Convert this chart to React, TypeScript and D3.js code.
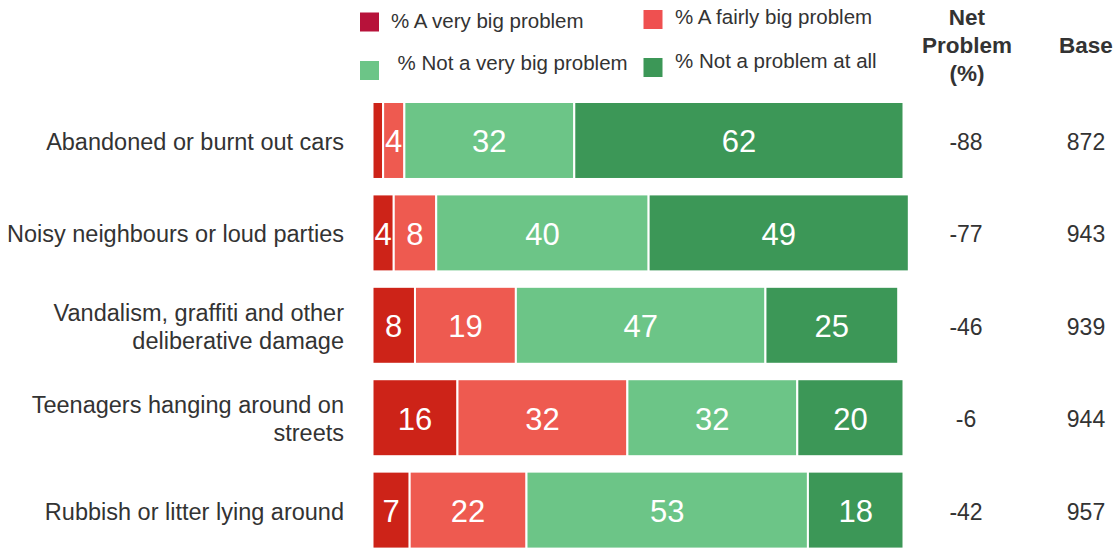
import React from "react";
import * as d3 from "d3";

const categories = [
  ["Abandoned or burnt out cars"],
  ["Noisy neighbours or loud parties"],
  ["Vandalism, graffiti and other", "deliberative damage"],
  ["Teenagers hanging around on", "streets"],
  ["Rubbish or litter lying around"],
];
const veryBig = [2, 4, 8, 16, 7];
const fairlyBig = [4, 8, 19, 32, 22];
const notVeryBig = [32, 40, 47, 32, 53];
const notAtAll = [62, 49, 25, 20, 18];
const netProblem = ["-88", "-77", "-46", "-6", "-42"];
const base = ["872", "943", "939", "944", "957"];
const seriesNames = ["% A very big problem", "% A fairly big problem", "% Not a very big problem", "% Not a problem at all"];
const barColors = ["#cd2318", "#ee5a50", "#6cc587", "#3c9757"];
const legendColors = ["#b7123a", "#ef5050", "#6cc587", "#3c9757"];

export default function App() {
  const W = 1115, H = 548;
  const x = d3.scaleLinear().domain([0, 100]).range([372.5, 903.5]);
  const y = d3
    .scaleBand()
    .domain(categories.map((_, i) => String(i)))
    .range([102, 548.6])
    .paddingInner(0.167)
    .paddingOuter(0);
  const series = [veryBig, fairlyBig, notVeryBig, notAtAll];
  const font = "Liberation Sans, Arial, Helvetica, sans-serif";
  const legendPos = [
    { sx: 360, sy: 12.5, tx: 391, ty: 27.5 },
    { sx: 643.5, sy: 10, tx: 675, ty: 24 },
    { sx: 360, sy: 61, tx: 397.5, ty: 70 },
    { sx: 643.5, sy: 58, tx: 675, ty: 67.5 },
  ];
  const dy = 1.5;
  return (
    <svg width={W} height={H} style={{ position: "absolute", left: 0, top: 0, fontFamily: font }}>
      <rect width={W} height={H} fill="#fff" />
      {legendPos.map((p, i) => (
        <g key={i}>
          <rect x={p.sx} y={p.sy} width={19} height={19} fill={legendColors[i]} />
          <text x={p.tx} y={p.ty} fontSize={20.5} fill="#333">{seriesNames[i]}</text>
        </g>
      ))}
      <g fontWeight="bold" fontSize={22.5} fill="#333" textAnchor="middle">
        <text x={967} y={25}>Net</text>
        <text x={967} y={52.7}>Problem</text>
        <text x={967} y={80.5}>(%)</text>
        <text x={1086} y={52.7}>Base</text>
      </g>
      {categories.map((lines, i) => {
        const y0 = y(String(i))!;
        const bh = y.bandwidth();
        const cy = y0 + bh / 2 + dy;
        let cum = 0;
        return (
          <g key={i}>
            {series.map((s, j) => {
              const v = s[i];
              const x0 = x(cum);
              const x1 = x(cum + v);
              cum += v;
              return (
                <g key={j}>
                  <rect x={x0} y={y0} width={x1 - x0} height={bh} fill={barColors[j]} stroke="#fff" strokeWidth={2} />
                  {v >= 4 && (
                    <text x={(x0 + x1) / 2} y={cy} textAnchor="middle" dominantBaseline="central" fontSize={31} fill="#fff">{v}</text>
                  )}
                </g>
              );
            })}
            {lines.map((l, k) => (
              <text key={k} x={344} y={cy + (k - (lines.length - 1) / 2) * 28} textAnchor="end" dominantBaseline="central" fontSize={23.5} fill="#333">{l}</text>
            ))}
            <text x={966} y={cy} textAnchor="middle" dominantBaseline="central" fontSize={23} fill="#333">{netProblem[i]}</text>
            <text x={1086} y={cy} textAnchor="middle" dominantBaseline="central" fontSize={23} fill="#333">{base[i]}</text>
          </g>
        );
      })}
    </svg>
  );
}
